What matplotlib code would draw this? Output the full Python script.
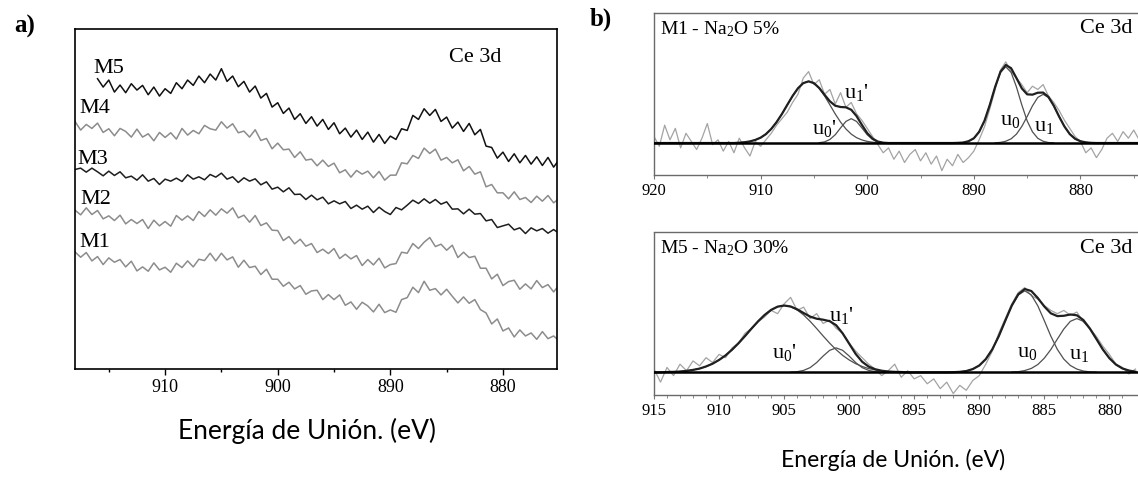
import numpy as np
import matplotlib.pyplot as plt

plt.rcParams['font.family'] = 'Liberation Serif'
plt.rcParams['mathtext.fontset'] = 'custom'
plt.rcParams['mathtext.rm'] = 'Liberation Serif'
plt.rcParams['mathtext.it'] = 'Liberation Serif:italic'

# ---------------- panel a: Ce 3d spectra of M1..M5 (a.u., 0.5 eV step) ----------------
a_start = 918.0
m5_start = 916.0
m5 = [870, 845, 866, 830, 851, 828, 855, 836, 850, 822,
      845, 818, 840, 826, 858, 840, 866, 850, 878, 858,
      884, 866, 900, 862, 878, 846, 862, 830, 848, 812,
      826, 785, 798, 766, 782, 748, 765, 736, 756, 728,
      748, 718, 738, 705, 722, 695, 716, 688, 710, 680,
      703, 676, 698, 688, 720, 715, 760, 748, 780, 760,
      778, 742, 755, 722, 740, 712, 736, 702, 718, 668,
      664, 632, 650, 622, 645, 618, 640, 614, 636, 610,
      634, 605, 628]
m4 = [742, 716, 733, 721, 737, 709, 720, 699, 721, 712,
      695, 719, 695, 705, 684, 709, 694, 708, 689, 721,
      701, 715, 705, 730, 720, 716, 741, 722, 735, 708,
      713, 695, 717, 685, 691, 660, 677, 657, 659, 634,
      651, 626, 629, 609, 626, 607, 617, 588, 597, 575,
      595, 584, 593, 573, 592, 566, 581, 581, 618, 615,
      640, 631, 662, 646, 659, 626, 634, 618, 627, 594,
      607, 584, 591, 546, 553, 528, 528, 510, 531, 508,
      514, 499, 518, 503, 520, 498, 511]
m3 = [598, 602, 590, 602, 591, 579, 593, 580, 591, 573,
      578, 566, 582, 563, 571, 553, 569, 563, 572, 562,
      582, 569, 576, 567, 583, 575, 587, 569, 576, 559,
      573, 563, 570, 552, 561, 539, 545, 531, 543, 523,
      524, 508, 521, 507, 515, 495, 504, 495, 502, 481,
      491, 479, 488, 469, 485, 472, 463, 484, 477, 491,
      506, 496, 510, 497, 508, 494, 501, 479, 480, 465,
      479, 464, 466, 444, 448, 424, 429, 434, 417, 423,
      406, 423, 414, 421, 407, 418, 406]
m2 = [476, 462, 483, 463, 475, 450, 459, 445, 461, 435,
      448, 436, 448, 421, 446, 429, 442, 428, 460, 446,
      459, 445, 472, 457, 477, 461, 480, 467, 483, 453,
      461, 440, 460, 430, 438, 416, 415, 385, 397, 375,
      389, 368, 376, 349, 359, 346, 361, 331, 344, 330,
      340, 310, 328, 312, 332, 303, 313, 316, 350, 347,
      376, 361, 380, 394, 367, 374, 356, 371, 334, 350,
      334, 338, 302, 302, 270, 284, 250, 262, 266, 239,
      255, 240, 265, 244, 253, 231, 252]
m1 = [351, 335, 349, 324, 337, 313, 333, 320, 328, 306,
      323, 294, 306, 293, 318, 297, 305, 290, 317, 304,
      324, 306, 329, 325, 347, 324, 347, 327, 336, 305,
      326, 304, 308, 283, 299, 269, 269, 248, 260, 240,
      250, 224, 234, 236, 208, 223, 208, 222, 191, 201,
      179, 200, 189, 171, 194, 169, 177, 170, 208, 214,
      245, 229, 263, 236, 241, 222, 239, 218, 198, 216,
      197, 208, 178, 168, 135, 150, 114, 123, 96, 117,
      99, 108, 89, 112, 91, 99, 84]
a_series = [('M1', m1, a_start, '#8c8c8c'), ('M2', m2, a_start, '#8c8c8c'),
            ('M4', m4, a_start, '#8c8c8c'), ('M3', m3, a_start, '#1e1e1e'),
            ('M5', m5, m5_start, '#111111')]
a_labels = {'M5': (916.4, 902), 'M4': (917.6, 782), 'M3': (917.8, 627),
            'M2': (917.5, 507), 'M1': (917.6, 379)}

# ---------------- panel b: fitted spectra (baseline = 0) ----------------
top_start = 920.0
top_data = [4, -2, 11, 2, 9, -3, 6, 1, -4, 3,
            12, -1, 2, -5, 1, -6, 3, -3, -8, 1,
            -2, 2, 6, 11, 15, 19, 25, 30, 40, 44,
            36, 39, 30, 33, 24, 31, 22, 25, 18, 14,
            9, 4, -1, -6, -3, -10, -5, -12, -7, -4,
            -11, -6, -13, -8, -17, -10, -14, -7, -12, -9,
            -5, 2, 10, 21, 33, 45, 50, 44, 40, 36,
            31, 35, 33, 36, 29, 25, 20, 14, 9, 4,
            1, -6, -3, -9, -4, 3, 6, 1, 7, 3,
            8, 2]
top_comps = {
    "u0p": (912.0, [0.2, 0.5, 1.0, 1.9, 3.3, 5.5, 8.7, 12.9, 17.9, 23.5, 29.0, 33.7, 36.9, 38.0,
                    36.9, 33.7, 29.0, 23.5, 17.9, 12.9, 8.7, 5.5, 3.3, 1.9, 1.0, 0.5, 0.2]),
    "u1p": (904.5, [0.2, 0.7, 2.2, 5.1, 9.3, 13.3, 15.0, 13.3, 9.3, 5.1, 2.2, 0.7, 0.2]),
    "u0": (891.5, [0.1, 0.3, 1.1, 2.9, 6.9, 13.7, 23.5, 34.5, 43.5, 47.0,
                   43.5, 34.5, 23.5, 13.7, 6.9, 2.9, 1.1, 0.3, 0.1]),
    "u1": (888.0, [0.1, 0.4, 1.1, 2.6, 5.5, 10.2, 16.3, 22.9, 28.1, 30.0,
                   28.1, 22.9, 16.3, 10.2, 5.5, 2.6, 1.1, 0.4, 0.1]),
}
bot_start = 915.0
bot_data = [2, -6, 3, -2, 5, 1, 7, 4, 9, 6,
            11, 9, 15, 18, 24, 27, 31, 34, 38, 36,
            42, 46, 38, 40, 33, 36, 30, 32, 27, 24,
            18, 13, 9, 5, 2, -2, 1, 5, -3, 1,
            -4, -2, -7, -4, -10, -6, -13, -8, -11, -5,
            -2, 5, 13, 24, 33, 42, 49, 52, 47, 45,
            41, 38, 36, 38, 35, 37, 31, 27, 22, 16,
            11, 5, 3, -1, 2]
bot_comps = {
    "u0p": (914.0, [0.2, 0.3, 0.5, 0.9, 1.5, 2.3, 3.6, 5.3, 7.6, 10.4, 13.9, 17.9, 22.3, 26.9,
                    31.3, 35.2, 38.3, 40.3, 41.0, 40.3, 38.3, 35.2, 31.3, 26.9, 22.3, 17.9,
                    13.9, 10.4, 7.6, 5.3, 3.6, 2.3, 1.5, 0.9, 0.5, 0.3, 0.2]),
    "u1p": (904.5, [0.1, 0.4, 1.2, 2.9, 6.0, 10.0, 13.5, 15.0, 13.5, 10.0, 6.0, 2.9, 1.2, 0.4, 0.1]),
    "u0": (892.0, [0.1, 0.3, 0.8, 2.0, 4.2, 8.1, 14.1, 22.2, 31.7, 40.8, 47.5, 50.0,
                   47.5, 40.8, 31.7, 22.2, 14.1, 8.1, 4.2, 2.0, 0.8, 0.3, 0.1]),
    "u1": (887.5, [0.2, 0.4, 1.1, 2.4, 4.8, 8.7, 14.0, 20.4, 26.6, 31.3, 33.0,
                   31.3, 26.6, 20.4, 14.0, 8.7, 4.8, 2.4, 1.1, 0.4]),
}
peak_names = {"u0p": "u$_0$'", "u1p": "u$_1$'", "u0": "u$_0$", "u1": "u$_1$"}
top_label_pos = {"u0p": (904.0, 9), "u1p": (901.0, 31), "u0": (886.6, 14), "u1": (883.4, 10)}
bot_label_pos = {"u0p": (905.0, 12), "u1p": (900.6, 35), "u0": (886.3, 12), "u1": (882.3, 11)}

STEP = 0.5
W, H = 1138, 480


def box(l, t, r, b):
    return [l / W, 1 - b / H, (r - l) / W, (b - t) / H]


def energies(start, n):
    return start - STEP * np.arange(n)


fig = plt.figure(figsize=(W / 100, H / 100), dpi=100)

# ---- panel a ----
ax = fig.add_axes(box(75, 29, 557, 369))
for name, vals, start, col in a_series:
    ax.plot(energies(start, len(vals)), vals, color=col, lw=1.1)
for name, (x, y) in a_labels.items():
    ax.text(x, y, name, fontsize=16, ha='left', va='center')
ax.text(0.775, 0.915, 'Ce 3d', transform=ax.transAxes, fontsize=16, ha='left', va='center')
ax.set_xlim(918, 875.2)
ax.set_ylim(0, 1019)
ax.set_yticks([])
ax.set_xticks([910, 900, 890, 880])
ax.set_xticks([915, 905, 895, 885], minor=True)
ax.tick_params(axis='x', which='major', direction='out', length=4, width=1, labelsize=13, pad=3)
ax.tick_params(axis='x', which='minor', direction='out', length=2.5, width=1)
for s in ax.spines.values():
    s.set_linewidth(1.2)

fig.text(307 / W, 1 - 431 / H, 'Energía de Unión. (eV)', family='Lato', fontsize=19,
         ha='center', va='center')
fig.text(25 / W, 1 - 26 / H, 'a)', fontsize=18, fontweight='bold', ha='center', va='center')
fig.text(601 / W, 1 - 19 / H, 'b)', fontsize=18, fontweight='bold', ha='center', va='center')


# ---- panel b ----
def fit_panel(ax, start, data, comps, label_pos, title, xlim, ylim, major, minor):
    e = energies(start, len(data))
    envelope = np.zeros(len(data))
    ax.plot(e, data, color='#a3a3a3', lw=0.9, zorder=1)
    for key, (cstart, cvals) in comps.items():
        i = int(round((start - cstart) / STEP))
        envelope[i:i + len(cvals)] += np.array(cvals)
        ax.plot(energies(cstart, len(cvals)), cvals, color='#505050', lw=0.9, zorder=2)
        x, y = label_pos[key]
        ax.text(x, y, peak_names[key], fontsize=16, ha='center', va='center')
    ax.plot(e, envelope, color='#202020', lw=1.6, zorder=3)
    ax.axhline(0, color='black', lw=1.8, zorder=4)
    ax.text(0.012, 0.9, title, transform=ax.transAxes, fontsize=14, ha='left', va='center')
    ax.text(0.988, 0.9, 'Ce 3d', transform=ax.transAxes, fontsize=16, ha='right', va='center')
    ax.set_xlim(*xlim)
    ax.set_ylim(*ylim)
    ax.set_yticks([])
    ax.set_xticks(major)
    ax.set_xticks(minor, minor=True)
    ax.tick_params(axis='x', which='major', direction='out', length=3, color='#777777',
                   labelsize=12, pad=3)
    ax.tick_params(axis='x', which='minor', direction='out', length=2, color='#777777')
    for side in ['left', 'top', 'bottom']:
        ax.spines[side].set_linestyle((0, (1, 1)))
        ax.spines[side].set_color('#6a6a6a')
        ax.spines[side].set_linewidth(1.0)
    ax.spines['right'].set_visible(False)


ax_t = fig.add_axes(box(654, 12.7, 1138, 175))
fit_panel(ax_t, top_start, top_data, top_comps, top_label_pos, r'M1 - Na$_2$O 5%',
          (920, 874.6), (-19.7, 80.3), [920, 910, 900, 890, 880], [915, 905, 895, 885, 875])

ax_b = fig.add_axes(box(654, 232, 1138, 395))
fit_panel(ax_b, bot_start, bot_data, bot_comps, bot_label_pos, r'M5 - Na$_2$O 30%',
          (915, 877.8), (-13.9, 86.1), [915, 910, 905, 900, 895, 890, 885, 880],
          list(range(914, 878, -1)))

fig.text(893 / W, 1 - 460 / H, 'Energía de Unión. (eV)', family='Lato', fontsize=16.5,
         ha='center', va='center')

fig.savefig('out.png', dpi=100)
